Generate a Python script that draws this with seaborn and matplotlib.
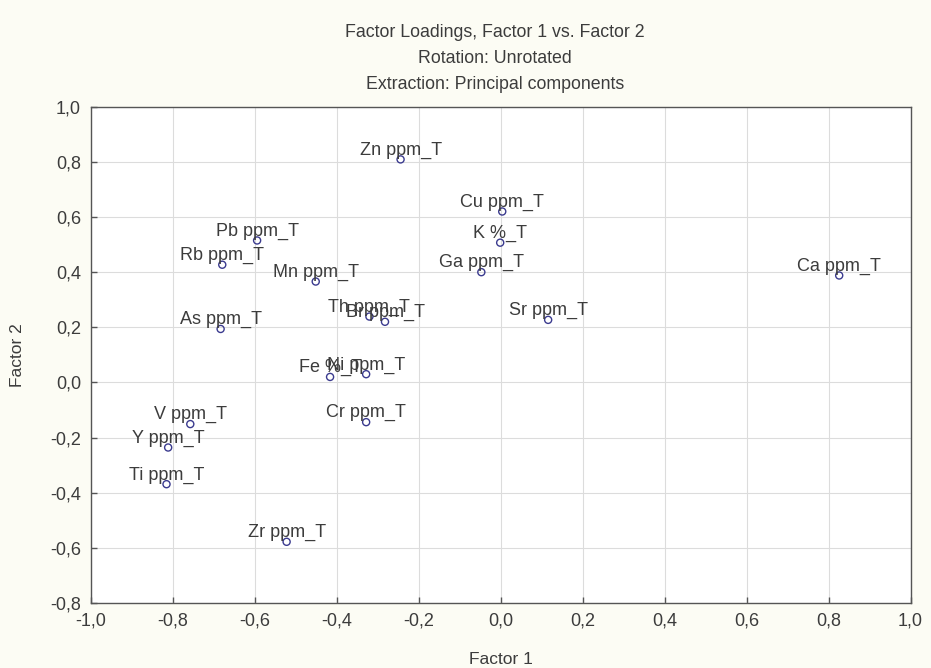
import matplotlib
matplotlib.use("Agg")
import matplotlib.pyplot as plt
import seaborn as sns
import pandas as pd
from matplotlib.ticker import FuncFormatter, MultipleLocator

labels = ["Zn ppm_T", "Cu ppm_T", "K %_T", "Ga ppm_T", "Ca ppm_T", "Sr ppm_T",
          "Pb ppm_T", "Rb ppm_T", "Mn ppm_T", "As ppm_T", "Th ppm_T", "Br ppm_T",
          "Fe %_T", "Ni ppm_T", "Cr ppm_T", "V ppm_T", "Y ppm_T", "Ti ppm_T", "Zr ppm_T"]
factor1 = [-0.244, 0.004, -0.001, -0.047, 0.826, 0.116,
           -0.594, -0.679, -0.451, -0.683, -0.320, -0.282,
           -0.416, -0.328, -0.328, -0.757, -0.811, -0.815, -0.522]
factor2 = [0.809, 0.620, 0.507, 0.400, 0.388, 0.227,
           0.515, 0.427, 0.366, 0.194, 0.239, 0.220,
           0.020, 0.030, -0.144, -0.151, -0.236, -0.369, -0.578]

df = pd.DataFrame({"label": labels, "Factor 1": factor1, "Factor 2": factor2})

sns.set_theme(style="white")
plt.rcParams["font.family"] = ["Liberation Sans", "DejaVu Sans"]
txt = "#3c3c3c"

fig = plt.figure(figsize=(9.31, 6.68), dpi=100, facecolor="#fcfcf4")
ax = fig.add_axes([0.0974, 0.0973, 0.8806, 0.7429])
ax.set_facecolor("white")

sns.scatterplot(data=df, x="Factor 1", y="Factor 2", ax=ax, marker="o", s=26,
                facecolor="none", edgecolor="#3b3b8f", linewidth=1.0, zorder=3)

for lab, x, y in zip(labels, factor1, factor2):
    ax.annotate(lab, (x, y), textcoords="offset points", xytext=(0, 3.5),
                ha="center", va="baseline", fontsize=13, color=txt, zorder=4)

ax.set_xlim(-1.0, 1.0)
ax.set_ylim(-0.8, 1.0)
ax.xaxis.set_major_locator(MultipleLocator(0.2))
ax.yaxis.set_major_locator(MultipleLocator(0.2))
fmt = FuncFormatter(lambda v, p: f"{v:.1f}".replace(".", ",").replace("-0,0", "0,0"))
ax.xaxis.set_major_formatter(fmt)
ax.yaxis.set_major_formatter(fmt)
ax.grid(True, color="#dcdcdc", linewidth=0.8)
ax.tick_params(direction="in", length=4, width=1, colors="#555555",
               labelcolor=txt, labelsize=13, pad=7, bottom=True, left=True)
for s in ax.spines.values():
    s.set_color("#555555")
    s.set_linewidth(1.0)

ax.set_xlabel("Factor 1", fontsize=12.5, color=txt, labelpad=16)
ax.set_ylabel("Factor 2", fontsize=12.5, color=txt, labelpad=18)

fig.text(0.532, 0.952, "Factor Loadings, Factor 1 vs. Factor 2", ha="center",
         va="center", fontsize=12.8, color=txt)
fig.text(0.532, 0.913, "Rotation: Unrotated", ha="center", va="center",
         fontsize=12.8, color=txt)
fig.text(0.532, 0.874, "Extraction: Principal components", ha="center",
         va="center", fontsize=12.8, color=txt)

fig.savefig("out.png", dpi=100, facecolor=fig.get_facecolor())
